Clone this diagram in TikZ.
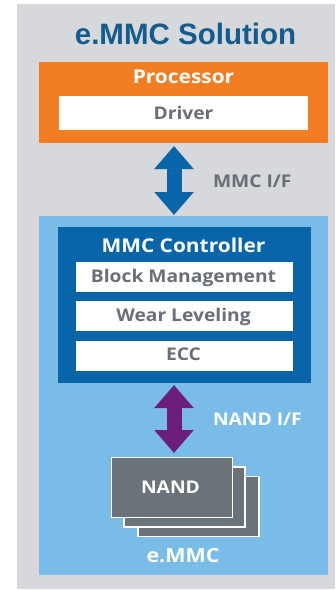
\documentclass[tikz,border=0pt]{standalone}
\usepackage{fontspec}
\setmainfont{Open Sans}[FakeStretch=1.1]
\newfontfamily\titlefont{Liberation Sans}
\usetikzlibrary{arrows.meta}
\definecolor{bgray}{RGB}{214,216,220}
\definecolor{orng}{RGB}{243,125,34}
\definecolor{ttlblue}{RGB}{18,92,142}
\definecolor{dkblue}{RGB}{8,101,170}
\definecolor{ltblue}{RGB}{122,188,232}
\definecolor{txtgray}{RGB}{104,111,118}
\definecolor{nandgray}{RGB}{105,115,121}
\definecolor{purp}{RGB}{107,31,122}
\tikzset{
  panel/.style={rectangle, inner sep=0pt, outer sep=0pt},
  wbox/.style={panel, fill=white, minimum width=217, minimum height=30},
  lbl/.style={inner sep=0pt, outer sep=0pt, anchor=base, font=\bfseries\fontsize{17.5}{17.5}\selectfont},
  head/.style={lbl, text=white, font=\bfseries\fontsize{19}{19}\selectfont},
  nandbox/.style={panel, fill=nandgray, draw=white, line width=1.5pt, minimum width=121, minimum height=60},
  dblarrow/.style={line width=15pt, {Triangle[width=38pt,length=23pt]}-{Triangle[width=38pt,length=23pt]}}
}
\begin{document}
\begin{tikzpicture}[x=1pt,y=-1pt]
\useasboundingbox (0,0) rectangle (335,591);
\fill[bgray] (17,4) rectangle (335,589);

% title
\node[inner sep=0pt, anchor=base, text=ttlblue, font=\titlefont\bfseries\fontsize{29.5}{29.5}\selectfont] (title) at (185.5,45) {e.MMC Solution};

% processor
\node[panel, fill=orng, minimum width=289, minimum height=81] (proc) at (183.5,102.5) {};
\node[head] (proct) at (183.5,84) {Processor};
\node[wbox, minimum width=249, minimum height=34] (drv) at (183.5,113) {};
\node[lbl, text=txtgray] (drvt) at (183.5,119.3) {Driver};

% eMMC panel
\node[panel, fill=ltblue, minimum width=289, minimum height=359] (emmc) at (183.5,395.5) {};
\node[panel, fill=dkblue, minimum width=253, minimum height=156] (ctrl) at (184.5,305) {};
\node[head] (ctrlt) at (183.5,252.3) {MMC Controller};
\node[wbox] (blk) at (184.5,277) {};
\node[lbl, text=txtgray] (blkt) at (183.5,282.3) {Block Management};
\node[wbox] (wear) at (184.5,316) {};
\node[lbl, text=txtgray] (weart) at (183.5,321.7) {Wear Leveling};
\node[wbox] (ecc) at (184.5,356) {};
\node[lbl, text=txtgray] (ecct) at (183.5,360.7) {ECC};

% NAND stack
\node[nandbox] (n3) at (198.3,506.3) {};
\node[nandbox] (n2) at (184.3,496.8) {};
\node[nandbox] (n1) at (171.8,487.3) {};
\node[lbl, text=white] (nandt) at (170.5,493.3) {NAND};
\node[lbl, text=white, font=\bfseries\fontsize{19.5}{19.5}\selectfont] (emmct) at (183,562.7) {e.MMC};

% arrows
\coordinate (a1s) at (174,146);
\coordinate (a1e) at (174,215);
\draw[dblarrow, dkblue] (a1s) -- (a1e);
\node[lbl, anchor=base west, text=txtgray] (mmcif) at (213,187.3) {MMC I/F};

\coordinate (a2s) at (174,385);
\coordinate (a2e) at (174,453);
\draw[dblarrow, purp] (a2s) -- (a2e);
\node[lbl, anchor=base west, text=white] (nandif) at (213,425.7) {NAND I/F};
\end{tikzpicture}
\end{document}
